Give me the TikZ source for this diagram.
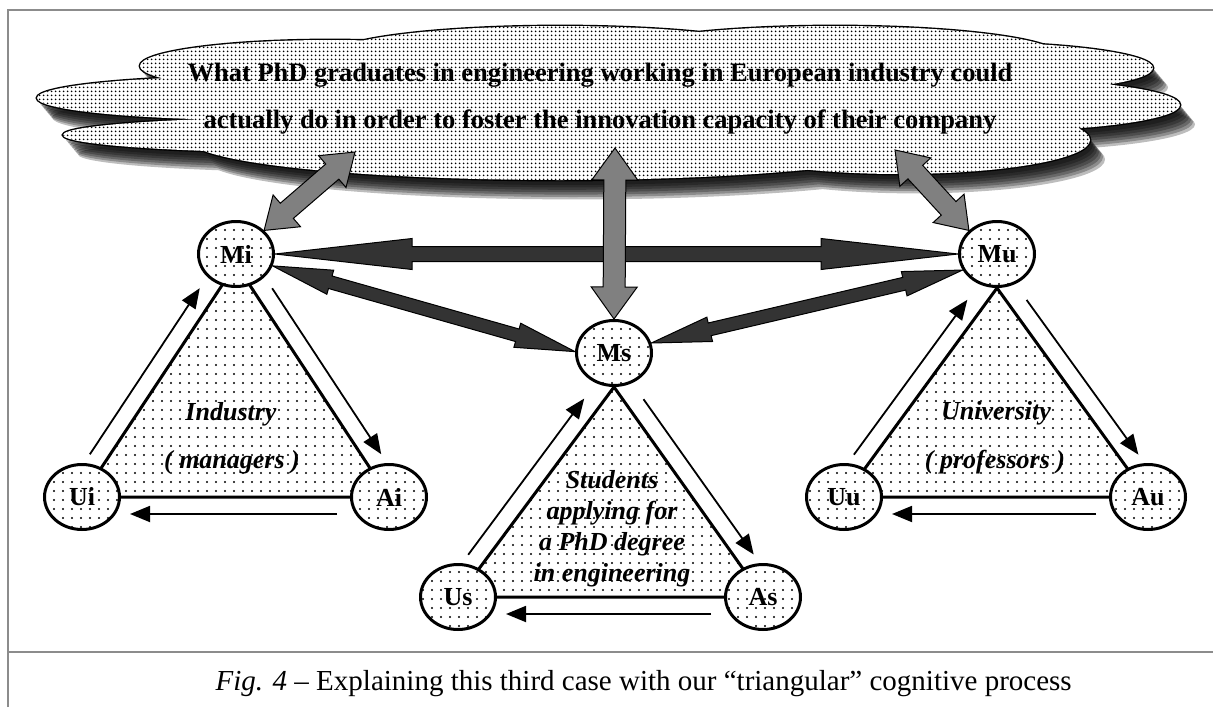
\documentclass[tikz,border=0pt]{standalone}
\usepackage{fontspec}
\setmainfont{Liberation Serif}
\usetikzlibrary{calc,shapes.geometric,patterns.meta,arrows.meta}

\pgfdeclarelayer{cloudlayer}
\pgfdeclarelayer{trilayer}
\pgfsetlayers{cloudlayer,trilayer,main}

\tikzset{
  dotfill/.style={preaction={fill=white}, pattern={Dots[distance=9pt,radius=1.1pt]}},
  mnode/.style={ellipse, draw, line width=3pt, minimum width=75pt, minimum height=65pt,
    inner sep=0pt, dotfill, font=\fontsize{26}{26}\selectfont\bfseries},
  triside/.style={line width=3pt, line join=round, dotfill},
  thinarrow/.style={line width=1.8pt, -{Triangle[length=20pt,width=16pt]}},
  darkarrow/.style={fill=black!80, draw=black, line width=1pt},
  greyarrow/.style={fill=black!50, draw=black, line width=1pt},
  trilabel/.style={font=\fontsize{26}{26}\selectfont\bfseries\itshape},
  cloudtext/.style={font=\fontsize{26.5}{47}\selectfont\bfseries, align=center},
  frameline/.style={draw=black!45, line width=1.8pt}
}

% lobes of the cloud
\newcommand{\cloudlobes}{
  (600,95) ellipse [x radius=420pt, y radius=45pt]
  (560,56) ellipse [x radius=230pt, y radius=30pt]
  (835,56) ellipse [x radius=225pt, y radius=30pt]
  (960,68) ellipse [x radius=193pt, y radius=26pt]
  (330,66) ellipse [x radius=190pt, y radius=26pt]
  (260,98) ellipse [x radius=223pt, y radius=22pt]
  (330,135) ellipse [x radius=267pt, y radius=18pt]
  (975,105) ellipse [x radius=205pt, y radius=27pt]
  (900,140) ellipse [x radius=190pt, y radius=34pt]
  (560,140) ellipse [x radius=370pt, y radius=40pt]
}

% double headed block arrow: style, from, to, half shaft, head length, half head
\newcommand{\fatarrow}[6]{
  \draw[#1] (#2)
    -- ($(#2)!#5!(#3)!#6!90:(#3)$)
    -- ($(#2)!#5!(#3)!#4!90:(#3)$)
    -- ($(#3)!#5!(#2)!#4!-90:(#2)$)
    -- ($(#3)!#5!(#2)!#6!-90:(#2)$)
    -- (#3)
    -- ($(#3)!#5!(#2)!#6!90:(#2)$)
    -- ($(#3)!#5!(#2)!#4!90:(#2)$)
    -- ($(#2)!#5!(#3)!#4!-90:(#3)$)
    -- ($(#2)!#5!(#3)!#6!-90:(#3)$)
    -- cycle;
}

\begin{document}
\begin{tikzpicture}[x=1pt, y=-1pt]
	\useasboundingbox (0,0) rectangle (1213,707);

	\draw[frameline] (8,707) -- (8,10) -- (1213,10);
	\draw[frameline] (8,652) -- (1213,652);
	\node[anchor=base west, font=\fontsize{29}{29}\selectfont] (caption) at (212,690)
		{\textit{Fig. 4} – Explaining this third case with our “triangular” cognitive process};

	% cloud with its shadow
	\begin{pgfonlayer}{cloudlayer}
		\foreach \k in {0,...,6}
			\fill[black, opacity=0.26, shift={(3+2*\k,5+2.4*\k)}] \cloudlobes;
		\draw[line width=2.8pt] \cloudlobes;
		\fill[white] \cloudlobes;
		\fill[pattern={Dots[distance=4pt,radius=1.15pt]}] \cloudlobes;
	\end{pgfonlayer}
	\node[cloudtext] (question) at (600,99)
		{What PhD graduates in engineering working in European industry could\\
		 actually do in order to foster the innovation capacity of their company};

	\coordinate (cloudL) at (355,152);
	\coordinate (cloudM) at (615,148);
	\coordinate (cloudR) at (895,150);

	\node[mnode] (Mi) at (236,254) {Mi};
	\node[mnode] (Ui) at (82,497) {Ui};
	\node[mnode] (Ai) at (389,497) {Ai};
	\node[mnode] (Ms) at (614,353) {Ms};
	\node[mnode] (Us) at (458,597) {Us};
	\node[mnode] (As) at (763,597) {As};
	\node[mnode] (Mu) at (997,254) {Mu};
	\node[mnode] (Uu) at (844,497) {Uu};
	\node[mnode] (Au) at (1148,497) {Au};

	% triangles and the arrows round them
	\foreach \m/\u/\a/\f/\g in {Mi/Ui/Ai/0.3/40, Ms/Us/As/1/27, Mu/Uu/Au/1/27} {
		\coordinate (\m-apex) at ($(\m.center)!\f!(\m.south)$);
		\begin{pgfonlayer}{trilayer}
			\draw[triside] (\m-apex) -- (\u.center) -- (\a.center) -- cycle;
		\end{pgfonlayer}
		\draw[thinarrow] ($(\u)!40pt!(\m-apex)!17pt!90:(\m-apex)$) -- ($(\m-apex)!\g pt!(\u)!17pt!-90:(\u)$);
		\draw[thinarrow] ($(\m-apex)!\g pt!(\a)!17pt!90:(\a)$) -- ($(\a)!40pt!(\m-apex)!17pt!-90:(\m-apex)$);
		\draw[thinarrow] ($(\a)!52pt!(\u)!17pt!90:(\u)$) -- ($(\u)!48pt!(\a)!17pt!-90:(\a)$);
	}

	\node[trilabel] (industry) at (231,414) {Industry};
	\node[trilabel] (managers) at (232,462) {( managers )};
	\node[trilabel] (university) at (996,413) {University};
	\node[trilabel] (professors) at (995,462) {( professors )};
	\node[trilabel, align=center, font=\fontsize{26}{31}\selectfont\bfseries\itshape] (students) at (612,529)
		{Students\\applying for\\a PhD degree\\in engineering};

	\fatarrow{darkarrow}{Mi.east}{Mu.west}{7.5pt}{137pt}{15.5pt}
	\fatarrow{darkarrow}{Mi.-18}{Ms.178}{6.5pt}{60pt}{12.5pt}
	\fatarrow{darkarrow}{Ms.15}{Mu.-155}{6.5pt}{60pt}{12.5pt}

	\fatarrow{greyarrow}{Mi.40}{cloudL}{10pt}{30pt}{21pt}
	\fatarrow{greyarrow}{Ms.north}{cloudM}{11pt}{32pt}{23pt}
	\fatarrow{greyarrow}{Mu.140}{cloudR}{10pt}{30pt}{21pt}

\end{tikzpicture}
\end{document}
